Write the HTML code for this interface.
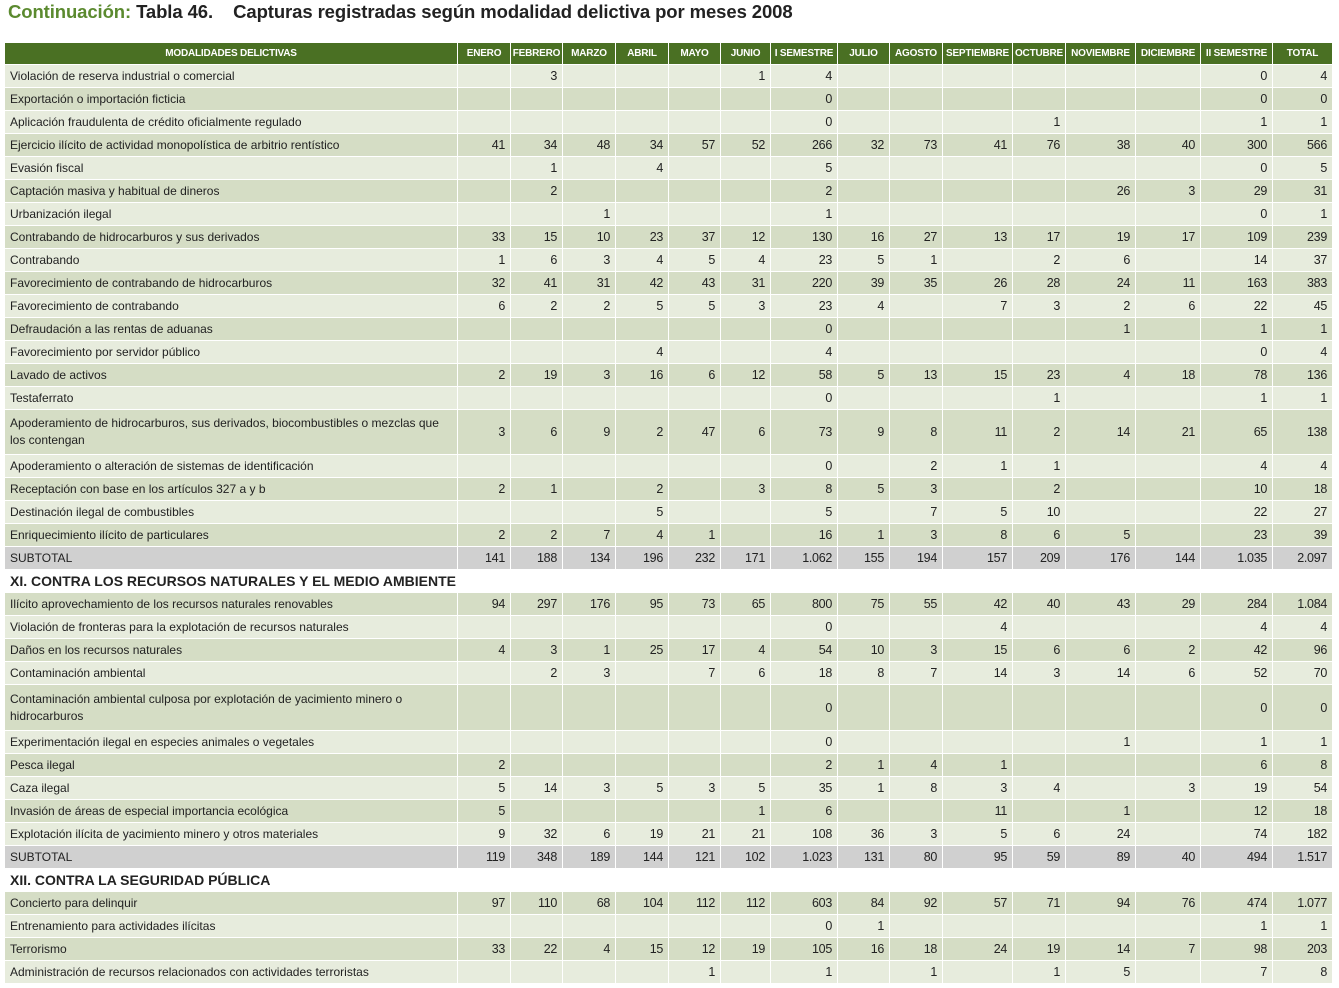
<!DOCTYPE html>
<html><head><meta charset="utf-8">
<style>
body{margin:0;background:#fff;width:1339px;height:988px;overflow:hidden;position:relative;font-family:"Liberation Sans Narrow","Liberation Sans",sans-serif;}
#title{position:absolute;left:8px;top:1px;font-family:"Liberation Sans",sans-serif;font-weight:bold;font-size:18.5px;color:#222;white-space:pre;letter-spacing:-0.1px}
#title span{color:#5b8a2f}
.c{position:absolute;box-sizing:border-box;border-right:1px solid #fff;border-bottom:1px solid #fff;font-size:12.5px;color:#222;text-align:right;padding-right:5px;display:flex;align-items:center;justify-content:flex-end;white-space:nowrap;letter-spacing:-0.3px}
.c.n{justify-content:flex-start;text-align:left;padding-left:5px;padding-right:4px;white-space:normal;line-height:17px;font-size:12px;letter-spacing:0px}
.h{background:#4a7023;color:#fff;font-weight:bold;font-size:10px;justify-content:center;padding:0;letter-spacing:-0.2px}
.sec{position:absolute;left:10px;font-family:"Liberation Sans",sans-serif;font-weight:bold;font-size:14px;color:#222}
</style></head><body>
<div id="title"><span>Continuación:</span> Tabla 46.    Capturas registradas según modalidad delictiva por meses 2008</div>
<div id="tbl"></div>
<script>
const headers=["MODALIDADES DELICTIVAS","ENERO","FEBRERO","MARZO","ABRIL","MAYO","JUNIO","I SEMESTRE","JULIO","AGOSTO","SEPTIEMBRE","OCTUBRE","NOVIEMBRE","DICIEMBRE","II SEMESTRE","TOTAL"];
const rowNames=[
"Violación de reserva industrial o comercial","Exportación o importación ficticia","Aplicación fraudulenta de crédito oficialmente regulado","Ejercicio ilícito de actividad monopolística de arbitrio rentístico","Evasión fiscal","Captación masiva y habitual de dineros","Urbanización ilegal","Contrabando de hidrocarburos y sus derivados","Contrabando","Favorecimiento de contrabando de hidrocarburos","Favorecimiento de contrabando","Defraudación a las rentas de aduanas","Favorecimiento por servidor público","Lavado de activos","Testaferrato","Apoderamiento de hidrocarburos, sus derivados, biocombustibles o mezclas que los contengan","Apoderamiento o alteración de sistemas de identificación","Receptación con base en los artículos 327 a y b","Destinación ilegal de combustibles","Enriquecimiento ilícito de particulares","SUBTOTAL",
"#XI. CONTRA LOS RECURSOS NATURALES Y EL MEDIO AMBIENTE",
"Ilícito aprovechamiento de los recursos naturales renovables","Violación de fronteras para la explotación de recursos naturales","Daños en los recursos naturales","Contaminación ambiental","Contaminación ambiental culposa por explotación de yacimiento minero o hidrocarburos","Experimentación ilegal en especies animales o vegetales","Pesca ilegal","Caza ilegal","Invasión de áreas de especial importancia ecológica","Explotación ilícita de yacimiento minero y otros materiales","SUBTOTAL",
"#XII. CONTRA LA SEGURIDAD PÚBLICA",
"Concierto para delinquir","Entrenamiento para actividades ilícitas","Terrorismo","Administración de recursos relacionados con actividades terroristas"];
const rowValues=[
",3,,,,1,4,,,,,,,0,4",",,,,,,0,,,,,,,0,0",",,,,,,0,,,,1,,,1,1","41,34,48,34,57,52,266,32,73,41,76,38,40,300,566",",1,,4,,,5,,,,,,,0,5",",2,,,,,2,,,,,26,3,29,31",",,1,,,,1,,,,,,,0,1","33,15,10,23,37,12,130,16,27,13,17,19,17,109,239","1,6,3,4,5,4,23,5,1,,2,6,,14,37","32,41,31,42,43,31,220,39,35,26,28,24,11,163,383","6,2,2,5,5,3,23,4,,7,3,2,6,22,45",",,,,,,0,,,,,1,,1,1",",,,4,,,4,,,,,,,0,4","2,19,3,16,6,12,58,5,13,15,23,4,18,78,136",",,,,,,0,,,,1,,,1,1","3,6,9,2,47,6,73,9,8,11,2,14,21,65,138",",,,,,,0,,2,1,1,,,4,4","2,1,,2,,3,8,5,3,,2,,,10,18",",,,5,,,5,,7,5,10,,,22,27","2,2,7,4,1,,16,1,3,8,6,5,,23,39","141,188,134,196,232,171,1.062,155,194,157,209,176,144,1.035,2.097",
"",
"94,297,176,95,73,65,800,75,55,42,40,43,29,284,1.084",",,,,,,0,,,4,,,,4,4","4,3,1,25,17,4,54,10,3,15,6,6,2,42,96",",2,3,,7,6,18,8,7,14,3,14,6,52,70",",,,,,,0,,,,,,,0,0",",,,,,,0,,,,,1,,1,1","2,,,,,,2,1,4,1,,,,6,8","5,14,3,5,3,5,35,1,8,3,4,,3,19,54","5,,,,,1,6,,,11,,1,,12,18","9,32,6,19,21,21,108,36,3,5,6,24,,74,182","119,348,189,144,121,102,1.023,131,80,95,59,89,40,494,1.517",
"",
"97,110,68,104,112,112,603,84,92,57,71,94,76,474,1.077",",,,,,,0,1,,,,,,1,1","33,22,4,15,12,19,105,16,18,24,19,14,7,98,203",",,,,1,,1,,1,,1,5,,7,8"];
const colX=[5,458,511,563,616,669,721,771,838,890,943,1013,1066,1136,1201,1273,1333];
const tbl=document.getElementById('tbl');
function cell(x,y,w,h,txt,cls,bg){const d=document.createElement('div');d.className='c '+cls;d.style.left=x+'px';d.style.top=y+'px';d.style.width=w+'px';d.style.height=h+'px';if(bg)d.style.background=bg;d.textContent=txt;tbl.appendChild(d);return d;}
headers.forEach((t,i)=>{const d=cell(colX[i],43,colX[i+1]-colX[i],22,t,'h');

});
const U=22.97;let y=65;let alt=0;
rowNames.forEach((name,r)=>{
 const tall=(name.length>80);const h=tall?2*U:U;
 if(name[0]==='#'){const s=document.createElement('div');s.className='sec';s.style.top=(y+3)+'px';s.textContent=name.slice(1);
 
 
 tbl.appendChild(s);y+=U;alt=1;return;}
 const sub=name==='SUBTOTAL';
 const bg=sub?'#d0d0d0':(alt%2===0?'#e7ecdd':'#d5ddc5');alt++;
 const vals=rowValues[r].split(',');
 const yy=Math.round(y),hh=Math.round(y+h)-yy;
 const n=cell(colX[0],yy,colX[1]-colX[0],hh,name,'n',bg);
 
 
 vals.forEach((v,i)=>{const d=cell(colX[i+1],yy,colX[i+2]-colX[i+1],hh,v,'',bg);
 
 });
 y+=h;
});
</script>
</body></html>
